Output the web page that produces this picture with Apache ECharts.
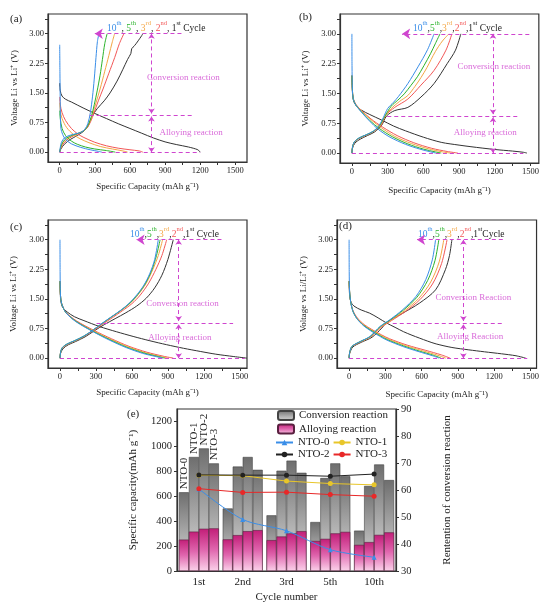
<!DOCTYPE html>
<html><head><meta charset="utf-8">
<script src="https://cdn.jsdelivr.net/npm/echarts@6/dist/echarts.min.js"></script>
<style>html,body{margin:0;padding:0;background:#fff}#c{width:542px;height:604px}</style>
</head><body><div id="c"></div>
<script>
// ---------- tick values ----------
const capTicks = [0,150,300,450,600,750,900,1050,1200,1350,1500];
const capLabels = [0,300,600,900,1200,1500];
const voltTicks = [0,0.375,0.75,1.125,1.5,1.875,2.25,2.625,3,3.375];
const voltLabels = [0,0.75,1.5,2.25,3];
const capETicks = [0,200,400,600,800,1000,1200];
const cycles = ['1st','2nd','3rd','5th','10th'];
const ntoNames = ['NTO-0','NTO-1','NTO-2','NTO-3'];

// ---------- panel (a) ----------
const a_d1 = [[0,1.75],[5,1.55],[20,1.42],[50,1.34],[100,1.27],[200,1.12],[300,0.98],[400,0.85],[500,0.72],[600,0.6],[700,0.48],[800,0.36],[900,0.26],[1000,0.19],[1100,0.13],[1180,0.06],[1200,0]];
const a_c1 = [[0,0],[10,0.08],[40,0.2],[90,0.32],[150,0.42],[200,0.52],[240,0.65],[275,0.9],[320,1.1],[380,1.3],[430,1.5],[490,1.8],[540,2.1],[580,2.35],[608,2.5],[615,2.62],[640,2.7],[670,2.82],[700,2.95],[710,3.0]];
const a_d2 = [[0,1.4],[5,1.2],[20,1.0],[50,0.8],[100,0.6],[150,0.47],[200,0.38],[300,0.25],[400,0.16],[500,0.1],[600,0.06],[680,0.03],[710,0]];
const a_c2 = [[0,0],[10,0.1],[35,0.23],[80,0.35],[130,0.43],[180,0.5],[230,0.6],[265,0.78],[290,0.97],[330,1.3],[370,1.6],[420,2.0],[470,2.4],[510,2.75],[548,3.0]];
const a_d3 = [[0,1.25],[5,1.05],[20,0.85],[60,0.62],[120,0.44],[180,0.33],[250,0.24],[350,0.14],[450,0.08],[540,0.03],[580,0]];
const a_c3 = [[0,0],[10,0.12],[30,0.25],[70,0.36],[120,0.43],[170,0.49],[220,0.58],[255,0.75],[280,0.95],[310,1.25],[345,1.6],[385,2.05],[420,2.45],[450,2.8],[469,3.0]];
const a_d5 = [[0,1.05],[5,0.85],[20,0.6],[50,0.42],[100,0.28],[150,0.2],[220,0.13],[300,0.08],[400,0.04],[475,0]];
const a_c5 = [[0,0],[8,0.12],[25,0.25],[60,0.36],[110,0.43],[160,0.48],[210,0.55],[245,0.7],[270,0.9],[295,1.2],[320,1.55],[345,1.95],[365,2.35],[385,2.75],[405,3.0]];
const a_d10 = [[0,2.72],[2,2.0],[4,1.4],[6,0.9],[10,0.6],[25,0.45],[50,0.32],[100,0.21],[180,0.12],[260,0.06],[330,0.02],[360,0]];
const a_c10 = [[0,0],[5,0.12],[15,0.25],[40,0.36],[80,0.42],[130,0.46],[180,0.5],[215,0.58],[240,0.72],[262,1.0],[280,1.4],[295,1.85],[310,2.4],[322,2.8],[335,3.0]];
const a_guides = [[1040,3,300,3],[256,0.93,1134,0.93],[0,0,1200,0],[784,0.98,784,3],[784,0,784,0.9]];
const a_notes = [[1057,1.88],[1122,0.5]];

// ---------- panel (b) ----------
const b_d1 = [[0,1.95],[5,1.5],[15,1.3],[40,1.18],[80,1.08],[150,0.97],[250,0.83],[350,0.68],[450,0.56],[600,0.4],[750,0.27],[900,0.2],[1000,0.16],[1200,0.09],[1350,0.05],[1440,0.02],[1470,0]];
const b_c1 = [[0,0],[5,0.12],[25,0.25],[70,0.35],[130,0.44],[190,0.53],[250,0.7],[290,0.93],[360,1.07],[470,1.15],[580,1.41],[690,1.75],[800,2.25],[870,2.59],[915,3.0]];
const b_d2 = [[0,1.95],[4,1.6],[12,1.37],[35,1.22],[80,1.07],[160,0.86],[260,0.65],[380,0.44],[520,0.26],[670,0.12],[800,0.04],[890,0]];
const b_c2 = [[0,0],[5,0.14],[20,0.27],[60,0.37],[120,0.45],[180,0.54],[245,0.7],[285,0.95],[360,1.15],[470,1.36],[580,1.71],[690,2.08],[790,2.59],[840,3.0]];
const b_d3 = [[0,1.95],[4,1.6],[12,1.36],[35,1.21],[80,1.06],[160,0.84],[250,0.63],[360,0.42],[500,0.24],[640,0.11],[760,0.03],[830,0]];
const b_c3 = [[0,0],[5,0.14],[20,0.27],[60,0.37],[120,0.45],[180,0.54],[240,0.7],[280,0.93],[330,1.12],[400,1.3],[470,1.45],[530,1.68],[580,1.9],[630,2.15],[700,2.55],[760,2.82],[815,3.0]];
const b_d5 = [[0,1.95],[4,1.6],[12,1.35],[35,1.2],[80,1.04],[150,0.82],[230,0.62],[340,0.41],[470,0.23],[600,0.1],[700,0.03],[750,0]];
const b_c5 = [[0,0],[5,0.15],[20,0.28],[60,0.38],[120,0.46],[180,0.55],[235,0.7],[275,0.92],[330,1.18],[385,1.33],[440,1.49],[495,1.7],[550,1.92],[605,2.2],[660,2.5],[700,2.75],[740,3.0]];
const b_d10 = [[0,3.0],[1,2.2],[4,1.6],[12,1.35],[35,1.2],[80,1.03],[150,0.8],[220,0.6],[320,0.4],[450,0.22],[570,0.1],[660,0.03],[705,0]];
const b_c10 = [[0,0],[5,0.15],[20,0.28],[60,0.38],[120,0.46],[180,0.55],[230,0.7],[265,0.9],[300,1.12],[350,1.28],[390,1.42],[470,1.75],[555,2.17],[635,2.6],[690,3.0]];
const b_guides = [[1490,3,422,3],[297,0.93,1408,0.93],[0,0,1440,0],[1185,0.98,1185,3],[1185,0,1185,0.9]];
const b_notes = [[1192,2.17],[1120,0.52]];

// ---------- panel (c) ----------
const c_d1 = [[0,1.95],[5,1.5],[20,1.3],[60,1.17],[120,1.05],[200,0.95],[330,0.8],[470,0.67],[610,0.55],[750,0.44],[890,0.34],[1030,0.25],[1170,0.17],[1300,0.1],[1450,0.04],[1560,0]];
const c_c1 = [[0,0],[5,0.12],[25,0.24],[70,0.34],[130,0.42],[210,0.54],[290,0.7],[370,0.85],[460,1.0],[550,1.15],[640,1.32],[720,1.52],[790,1.78],[850,2.1],[900,2.5],[945,3.0]];
const c_d2 = [[0,1.95],[4,1.6],[14,1.39],[50,1.16],[140,0.94],[285,0.7],[430,0.49],[575,0.3],[725,0.15],[860,0.05],[945,0]];
const c_c2 = [[0,0],[5,0.14],[20,0.26],[60,0.35],[120,0.43],[200,0.55],[285,0.71],[360,0.87],[440,1.03],[520,1.2],[600,1.38],[670,1.6],[740,1.9],[800,2.25],[850,2.6],[890,3.0]];
const c_d3 = [[0,1.95],[4,1.6],[14,1.38],[50,1.15],[135,0.93],[280,0.69],[420,0.48],[565,0.29],[710,0.14],[840,0.04],[900,0]];
const c_c3 = [[0,0],[5,0.14],[20,0.26],[60,0.35],[120,0.43],[200,0.55],[280,0.72],[355,0.88],[435,1.05],[515,1.22],[590,1.4],[655,1.62],[720,1.9],[775,2.25],[820,2.6],[856,3.0]];
const c_d5 = [[0,1.95],[4,1.6],[14,1.38],[50,1.15],[135,0.93],[275,0.68],[415,0.47],[555,0.28],[700,0.13],[820,0.04],[875,0]];
const c_c5 = [[0,0],[5,0.15],[20,0.27],[60,0.36],[120,0.44],[200,0.56],[280,0.72],[352,0.88],[432,1.05],[512,1.22],[585,1.4],[648,1.61],[710,1.88],[762,2.2],[805,2.6],[835,3.0]];
const c_d10 = [[0,3.0],[1,2.2],[4,1.6],[14,1.38],[50,1.15],[130,0.93],[270,0.68],[410,0.46],[550,0.27],[690,0.12],[800,0.04],[860,0]];
const c_c10 = [[0,0],[5,0.15],[20,0.27],[60,0.36],[120,0.44],[200,0.56],[280,0.72],[350,0.88],[430,1.05],[510,1.22],[580,1.4],[640,1.6],[700,1.85],[750,2.15],[790,2.5],[820,3.0]];
const c_guides = [[1347,3,639,3],[305,0.89,1444,0.89],[0,0,1541,0],[990,0.94,990,3],[990,0,990,0.86]];
const c_notes = [[1022,1.39],[1000,0.51]];

// ---------- panel (d) ----------
const d_d1 = [[0,1.95],[4,1.6],[15,1.42],[40,1.32],[100,1.22],[170,1.14],[240,1.02],[310,0.89],[380,0.78],[450,0.67],[520,0.58],[580,0.51],[650,0.43],[720,0.36],[850,0.27],[990,0.21],[1120,0.16],[1260,0.11],[1380,0.06],[1460,0]];
const d_c1 = [[0,0],[5,0.12],[30,0.28],[100,0.4],[190,0.53],[270,0.76],[309,0.9],[444,1.14],[580,1.39],[715,1.73],[796,2.24],[830,2.6],[850,3.0]];
const d_d2 = [[0,1.95],[4,1.7],[12,1.46],[30,1.22],[68,1.02],[125,0.85],[186,0.73],[268,0.59],[335,0.49],[480,0.33],[630,0.2],[765,0.08],[835,0]];
const d_c2 = [[0,0],[5,0.14],[24,0.29],[92,0.41],[180,0.54],[265,0.78],[350,0.95],[465,1.18],[585,1.48],[690,1.88],[765,2.4],[810,3.0]];
const d_d3 = [[0,1.95],[4,1.7],[12,1.45],[30,1.21],[66,1.01],[122,0.84],[182,0.72],[262,0.58],[325,0.48],[465,0.32],[605,0.19],[735,0.07],[800,0]];
const d_c3 = [[0,0],[5,0.14],[24,0.29],[92,0.41],[178,0.54],[262,0.79],[345,0.96],[458,1.2],[575,1.51],[675,1.93],[745,2.44],[783,3.0]];
const d_d5 = [[0,1.95],[4,1.7],[12,1.45],[30,1.2],[65,1.0],[120,0.83],[178,0.71],[255,0.57],[315,0.47],[450,0.31],[580,0.18],[700,0.07],[760,0]];
const d_c5 = [[0,0],[5,0.15],[24,0.3],[92,0.42],[175,0.55],[258,0.8],[340,0.97],[450,1.22],[560,1.54],[650,1.97],[710,2.47],[742,3.0]];
const d_d10 = [[0,3.0],[1,2.2],[4,1.7],[12,1.45],[30,1.2],[65,1.0],[120,0.82],[175,0.7],[250,0.56],[310,0.46],[440,0.3],[570,0.17],[690,0.06],[745,0]];
const d_c10 = [[0,0],[5,0.15],[24,0.3],[92,0.42],[173,0.55],[255,0.8],[336,0.97],[444,1.23],[552,1.56],[634,1.99],[688,2.49],[715,3.0]];
const d_guides = [[1271,3,562,3],[361,0.89,1271,0.89],[0,0,1473,0],[945,0.94,945,3],[945,0,945,0.86]];
const d_notes = [[1027,1.54],[1000,0.55]];

// ---------- panel (e) ----------
const nto0Total = [632, 502, 447, 393, 324];
const nto1Total = [915, 838, 805, 746, 683];
const nto2Total = [984, 915, 886, 864, 855];
const nto3Total = [864, 812, 788, 760, 730];
const nto0Alloy = [252, 254, 248, 241, 210];
const nto1Alloy = [316, 288, 277, 258, 232];
const nto2Alloy = [339, 320, 302, 302, 290];
const nto3Alloy = [342, 328, 320, 314, 310];
const ret0 = [60.4, 49.1, 44.9, 37.9, 35.1];
const ret1 = [65.5, 65.3, 63.3, 62.4, 61.9];
const ret2 = [65.6, 65.5, 65.5, 65.1, 65.9];
const ret3 = [60.5, 59.1, 59.2, 58.3, 57.7];

// ---------- styling ----------
const FONT = '"Liberation Serif", "Times New Roman", serif';
const COL = {c10:'#3a8ee8', c5:'#2bb32b', c3:'#f4a644', c2:'#f25757', c1:'#333333'};
const MAG = '#cf45cf';
const AX = '#333';
const plain = v => String(v);

const panels = [
  {left:48, top:14, width:199, height:148, xmin:-100, xmax:1600, xGap:20, yGap:29, yName:'Voltage Li vs Li\u207A (V)',
   curves:[[a_d1,a_c1,'c1'],[a_d2,a_c2,'c2'],[a_d3,a_c3,'c3'],[a_d5,a_c5,'c5'],[a_d10,a_c10,'c10']], guides:a_guides, notes:a_notes, noteText:['Conversion reaction','Alloying reaction']},
  {left:340, top:14, width:200, height:149, xmin:-100, xmax:1570, xGap:23, yGap:30, yName:'Voltage Li vs Li\u207A (V)',
   curves:[[b_d1,b_c1,'c1'],[b_d2,b_c2,'c2'],[b_d3,b_c3,'c3'],[b_d5,b_c5,'c5'],[b_d10,b_c10,'c10']], guides:b_guides, notes:b_notes, noteText:['Conversion reaction','Alloying reaction']},
  {left:48, top:220, width:199, height:148, xmin:-100, xmax:1560, xGap:20, yGap:30, yName:'Voltage Li vs Li\u207A (V)',
   curves:[[c_d1,c_c1,'c1'],[c_d2,c_c2,'c2'],[c_d3,c_c3,'c3'],[c_d5,c_c5,'c5'],[c_d10,c_c10,'c10']], guides:c_guides, notes:c_notes, noteText:['Conversion reaction','Alloying reaction']},
  {left:337, top:220, width:203, height:148, xmin:-100, xmax:1550, xGap:22, yGap:29, yName:'Voltage vs Li/Li\u207A (V)',
   curves:[[d_d1,d_c1,'c1'],[d_d2,d_c2,'c2'],[d_d3,d_c3,'c3'],[d_d5,d_c5,'c5'],[d_d10,d_c10,'c10']], guides:d_guides, notes:d_notes, noteText:['Conversion Reaction','Alloying Reaction']}
];

const option = {backgroundColor:'#fff', animation:false, grid:[], xAxis:[], yAxis:[], series:[], legend:[], graphic:[]};
const tStyle = (s)=>({fontFamily:FONT, fontSize:s, color:'#222'});

panels.forEach((p,i)=>{
  option.grid.push({left:p.left, top:p.top, width:p.width, height:p.height, show:true, borderColor:AX, borderWidth:1.2, backgroundColor:'rgba(0,0,0,0)'});
  option.xAxis.push({gridIndex:i, type:'value', min:p.xmin, max:p.xmax,
    axisLine:{show:true, onZero:false, lineStyle:{color:AX, width:1.2}},
    axisTick:{show:true, length:3, customValues:capTicks, lineStyle:{color:AX}},
    axisLabel:Object.assign({customValues:capLabels, margin:4, formatter:plain}, tStyle(8.5)),
    splitLine:{show:false},
    name:'Specific Capacity (mAh g\u207B\u00B9)', nameLocation:'middle', nameGap:p.xGap, nameTextStyle:tStyle(9)});
  option.yAxis.push({gridIndex:i, type:'value', min:-0.25, max:3.5,
    axisLine:{show:true, onZero:false, lineStyle:{color:AX, width:1.2}},
    axisTick:{show:true, length:3, customValues:voltTicks, lineStyle:{color:AX}},
    axisLabel:Object.assign({customValues:voltLabels, margin:4, formatter:v=>Number(v).toFixed(2)}, tStyle(8.5)),
    splitLine:{show:false},
    name:p.yName, nameLocation:'middle', nameGap:p.yGap, nameRotate:90, nameTextStyle:tStyle(9)});
  p.curves.forEach(([dis,chg,key])=>{
    [dis,chg].forEach(arr=>{
      option.series.push({type:'line', xAxisIndex:i, yAxisIndex:i, data:arr, showSymbol:false, symbol:'none',
        smooth:0.3, silent:true, lineStyle:{width:1, color:COL[key]}, itemStyle:{color:COL[key]}, z:3});
    });
  });
  const g = p.guides;
  const seg = (s, a1, a2, sz)=>[{coord:[s[0],s[1]], symbol:a1, symbolSize:sz}, {coord:[s[2],s[3]], symbol:a2, symbolSize:sz}];
  option.series.push({type:'scatter', xAxisIndex:i, yAxisIndex:i, symbolSize:1, silent:true,
    itemStyle:{color:'rgba(0,0,0,0)'},
    data:p.notes.map((pt,k)=>({value:pt, name:p.noteText[k]})),
    label:{show:true, position:'inside', formatter:'{b}', color:MAG, fontFamily:FONT, fontSize:9},
    markLine:{silent:true, animation:false, label:{show:false}, lineStyle:{type:[4,3], color:MAG, width:1},
      data:[seg(g[0],'none','arrow',8), seg(g[1],'none','none',1), seg(g[2],'none','none',1), seg(g[3],'arrow','arrow',5), seg(g[4],'arrow','arrow',5)]},
    z:4});
});

// panel (e)
const E = 4;
option.grid.push({left:177, top:409, width:219, height:162, show:true, borderColor:AX, borderWidth:1.2, backgroundColor:'rgba(0,0,0,0)'});
option.xAxis.push({gridIndex:E, type:'category', data:cycles,
  axisLine:{show:true, lineStyle:{color:AX, width:1.2}}, axisTick:{show:false},
  axisLabel:Object.assign({margin:6}, tStyle(11)), splitLine:{show:false},
  name:'Cycle number', nameLocation:'middle', nameGap:21, nameTextStyle:tStyle(11)});
option.xAxis.push({gridIndex:E, type:'category', data:cycles, show:false});
option.yAxis.push({gridIndex:E, type:'value', min:0, max:1300,
  axisLine:{show:true, lineStyle:{color:AX, width:1.2}},
  axisTick:{show:true, length:3, customValues:capETicks, lineStyle:{color:AX}},
  axisLabel:Object.assign({margin:5, customValues:capETicks, formatter:plain}, tStyle(10.5)), splitLine:{show:false},
  name:'Specific capacity(mAh g\u207B\u00B9)', nameLocation:'middle', nameGap:38, nameRotate:90, nameTextStyle:tStyle(11)});
option.yAxis.push({gridIndex:E, type:'value', position:'right', min:30, max:90, interval:10,
  axisLine:{show:true, lineStyle:{color:AX, width:1.2}}, axisTick:{show:true, length:3, lineStyle:{color:AX}},
  axisLabel:Object.assign({margin:5, formatter:plain}, tStyle(10.5)), splitLine:{show:false},
  name:'Rentention of conversion reaction', nameLocation:'middle', nameGap:46, nameRotate:90, nameTextStyle:tStyle(11)});

const grayGrad = {type:'linear', x:0, y:0, x2:0, y2:1, colorStops:[{offset:0, color:'#6e6e6e'},{offset:0.65, color:'#b8b8b8'},{offset:1, color:'#d4d4d4'}]};
const pinkGrad = {type:'linear', x:0, y:0, x2:0, y2:1, colorStops:[{offset:0, color:'#c21e78'},{offset:0.5, color:'#e066ae'},{offset:1, color:'#fbd2ea'}]};
const totals = [nto0Total, nto1Total, nto2Total, nto3Total];
const alloys = [nto0Alloy, nto1Alloy, nto2Alloy, nto3Alloy];
totals.forEach((arr,k)=>{
  option.series.push({type:'bar', name:'Conversion reaction', xAxisIndex:4, yAxisIndex:4, data:arr, barWidth:10, barGap:'0%',
    itemStyle:{color:grayGrad, borderColor:'#444', borderWidth:0.6},
    label:{show:true, position:'top', rotate:90, align:'left', verticalAlign:'middle', distance:3,
      fontFamily:FONT, fontSize:11, color:'#222', formatter:(pp)=> pp.dataIndex===0 ? ntoNames[k] : ''},
    z:2});
});
alloys.forEach((arr,k)=>{
  option.series.push({type:'bar', name:'Alloying reaction', xAxisIndex:5, yAxisIndex:4, data:arr, barWidth:10, barGap:'0%',
    itemStyle:{color:pinkGrad, borderColor:'#5a2040', borderWidth:0.6}, z:3});
});
const rets = [ret0, ret1, ret2, ret3];
const retCol = ['#3a8ee8', '#e8c62a', '#222222', '#e82828'];
rets.forEach((arr,k)=>{
  option.series.push({type:'line', name:ntoNames[k], xAxisIndex:4, yAxisIndex:5, data:arr,
    symbol: k===0 ? 'triangle' : 'circle', symbolSize:5, smooth: k===0 ? 0.3 : false,
    lineStyle:{width:1, color:retCol[k]}, itemStyle:{color:retCol[k]}, z:5});
});

const legText = tStyle(11);
option.legend.push({data:['Conversion reaction','Alloying reaction'], orient:'vertical', left:277, top:410, padding:0,
  itemWidth:16, itemHeight:9, itemGap:2.5, textStyle:legText, selectedMode:false});
option.legend.push({data:['NTO-0','NTO-1'], orient:'horizontal', left:275, top:437, padding:0,
  itemWidth:17, itemHeight:7, itemGap:3, textStyle:legText, selectedMode:false});
option.legend.push({data:['NTO-2','NTO-3'], orient:'horizontal', left:275, top:449, padding:0,
  itemWidth:17, itemHeight:7, itemGap:3, textStyle:legText, selectedMode:false});

// panel letters
[['(a)',10,14],['(b)',299,12],['(c)',10,222],['(d)',339,221],['(e)',127,409]].forEach(([t,x,y])=>{
  option.graphic.push({type:'text', left:x, top:y, style:{text:t, font:'11px '+FONT, fill:'#222'}});
});
// cycle legend texts
const mk = (c, s)=>({fill:c, fontSize:s, fontFamily:FONT, verticalAlign: s<8 ? 'top' : 'bottom', lineHeight:13});
const richCyc = {
  b:mk(COL.c10,9.5), bs:mk(COL.c10,6.5), g:mk(COL.c5,9.5), gs:mk(COL.c5,6.5),
  o:mk(COL.c3,9.5), os:mk(COL.c3,6.5), r:mk(COL.c2,9.5), rs:mk(COL.c2,6.5),
  k:mk('#222',9.5), ks:mk('#222',6.5)
};
const cycText = (sep, sp)=>'{b|10}{bs|th}{k|'+sep+'}{g|5}{gs|th}{k|'+sep+'}{o|3}{os|rd}{k|'+sep+'}{r|2}{rs|nd}{k|'+sep+'1}{ks|st}{k|'+sp+'Cycle}';
[[cycText(', ',' '),107,20],[cycText(',',' '),413,20],[cycText(',',' '),130,226],[cycText(',',''),418,226]].forEach(([t,x,y])=>{
  option.graphic.push({type:'text', left:x, top:y, style:{text:t, rich:richCyc, font:'9.5px '+FONT, fill:'#222'}});
});

const chart = echarts.init(document.getElementById('c'), null, {renderer:'canvas'});
chart.setOption(option);
</script></body></html>
